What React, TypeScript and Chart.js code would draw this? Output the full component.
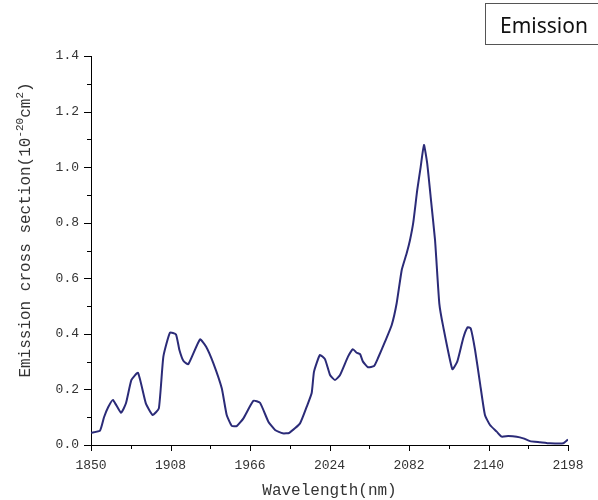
import React, { useEffect, useRef } from "react";
import { Chart, registerables } from "chart.js";
Chart.register(...registerables);

const seriesLabel = "Emission";
const xTitle = "Wavelength(nm)";
const yTitleParts = [
  { t: "Emission cross section(10", sup: false },
  { t: "-20", sup: true },
  { t: "cm", sup: false },
  { t: "2", sup: true },
  { t: ")", sup: false },
];

const xTickValues = [1850, 1908, 1966, 2024, 2082, 2140, 2198];
const yTickValues = [0, 0.2, 0.4, 0.6, 0.8, 1.0, 1.2, 1.4];

const wavelengths = [
  1850, 1856.6, 1859.5, 1862.5, 1866, 1871.9, 1875.5, 1879.5, 1884.3, 1890,
  1895, 1899.5, 1902.8, 1907.6, 1912, 1914.5, 1917.5, 1921, 1929.5, 1934,
  1939.3, 1945.4, 1949, 1952.7, 1956.3, 1961.2, 1968.5, 1973.3, 1979.4, 1984.3,
  1989.9, 1994.7, 2002.5, 2007.4, 2011, 2012.7, 2017, 2020.7, 2024.4, 2028,
  2031.7, 2037.5, 2041.1, 2043.8, 2046.3, 2048.4, 2052.1, 2056.5, 2059.4, 2064.5,
  2069.4, 2073, 2076.7, 2080.3, 2082.7, 2085.1, 2088, 2090.5, 2092.9, 2095.3,
  2097.8, 2101, 2104.1, 2107, 2113.6, 2117.2, 2121.6, 2124.8, 2127, 2130.2,
  2133.8, 2137.4, 2141.1, 2146, 2149.6, 2154.4, 2160.6, 2165.4, 2170.3, 2177.6,
  2184.9, 2194.6, 2198,
];
const emission = [
  0.044, 0.052, 0.1, 0.136, 0.162, 0.116, 0.15, 0.234, 0.26, 0.15,
  0.108, 0.132, 0.318, 0.404, 0.398, 0.342, 0.302, 0.291, 0.38, 0.354,
  0.294, 0.204, 0.108, 0.069, 0.068, 0.096, 0.159, 0.152, 0.084, 0.054,
  0.042, 0.044, 0.078, 0.138, 0.187, 0.264, 0.324, 0.309, 0.252, 0.234,
  0.252, 0.318, 0.345, 0.332, 0.327, 0.3, 0.28, 0.284, 0.313, 0.372,
  0.432, 0.51, 0.63, 0.69, 0.737, 0.8, 0.917, 1.0, 1.08, 1.013,
  0.893, 0.737, 0.51, 0.425, 0.273, 0.3, 0.385, 0.424, 0.42, 0.342,
  0.223, 0.108, 0.072, 0.048, 0.03, 0.032, 0.03, 0.024, 0.014, 0.01,
  0.006, 0.006, 0.02,
];

const MONO = "'Liberation Mono', 'DejaVu Sans Mono', monospace";

const axisDecor = {
  id: "axisDecor",
  afterDraw(chart: any) {
    const ctx = chart.ctx;
    const xs = chart.scales.x;
    const ys = chart.scales.y;
    const area = chart.chartArea;
    ctx.save();
    ctx.strokeStyle = "#000";
    ctx.lineWidth = 1;
    for (let i = 0; i < xTickValues.length; i++) {
      const px = Math.round(xs.getPixelForValue(xTickValues[i])) + 0.5;
      ctx.beginPath();
      ctx.moveTo(px, area.bottom);
      ctx.lineTo(px, area.bottom + 6);
      ctx.stroke();
      if (i < xTickValues.length - 1) {
        const mid = (xTickValues[i] + xTickValues[i + 1]) / 2;
        const mx = Math.round(xs.getPixelForValue(mid)) + 0.5;
        ctx.beginPath();
        ctx.moveTo(mx, area.bottom);
        ctx.lineTo(mx, area.bottom + 4);
        ctx.stroke();
      }
    }
    for (let i = 0; i < yTickValues.length; i++) {
      const py = Math.round(ys.getPixelForValue(yTickValues[i])) + 0.5;
      ctx.beginPath();
      ctx.moveTo(area.left, py);
      ctx.lineTo(area.left - 7, py);
      ctx.stroke();
      if (i < yTickValues.length - 1) {
        const mid = (yTickValues[i] + yTickValues[i + 1]) / 2;
        const my = Math.round(ys.getPixelForValue(mid)) + 0.5;
        ctx.beginPath();
        ctx.moveTo(area.left, my);
        ctx.lineTo(area.left - 4, my);
        ctx.stroke();
      }
    }
    const mainFont = `16px ${MONO}`;
    const supFont = `11px ${MONO}`;
    let total = 0;
    for (const p of yTitleParts) {
      ctx.font = p.sup ? supFont : mainFont;
      total += ctx.measureText(p.t).width;
    }
    ctx.translate(26, 230);
    ctx.rotate(-Math.PI / 2);
    ctx.fillStyle = "#333";
    ctx.textBaseline = "middle";
    ctx.textAlign = "left";
    let cx = -total / 2;
    for (const p of yTitleParts) {
      ctx.font = p.sup ? supFont : mainFont;
      ctx.fillText(p.t, cx, p.sup ? -6 : 0);
      cx += ctx.measureText(p.t).width;
    }
    ctx.restore();
  },
};

export default function App() {
  const ref = useRef<HTMLCanvasElement | null>(null);
  useEffect(() => {
    if (!ref.current) return;
    const chart = new Chart(ref.current, {
      type: "line",
      data: {
        datasets: [
          {
            label: seriesLabel,
            data: wavelengths.map((w, i) => ({ x: w, y: emission[i] })),
            borderColor: "#2b2b78",
            borderWidth: 2,
            pointRadius: 0,
            tension: 0.15,
            fill: false,
          },
        ],
      },
      options: {
        animation: false,
        responsive: false,
        devicePixelRatio: 1,
        layout: { padding: { top: 56, right: 30, left: 0, bottom: 0 } },
        plugins: {
          legend: { display: false },
          tooltip: { enabled: false },
        },
        scales: {
          x: {
            type: "linear",
            min: 1850,
            max: 2198,
            afterFit(scale: any) {
              scale.height = 55;
            },
            afterBuildTicks(scale: any) {
              scale.ticks = xTickValues.map((v) => ({ value: v }));
            },
            grid: { display: false, drawTicks: false },
            border: { display: true, color: "#000", width: 1 },
            ticks: {
              color: "#333",
              font: { family: MONO, size: 13 },
              padding: 13,
              maxRotation: 0,
              autoSkip: false,
              callback: (v: any) => String(v),
            },
            title: {
              display: true,
              text: xTitle,
              color: "#333",
              font: { family: MONO, size: 16 },
              padding: { top: 0, bottom: 0 },
            },
          },
          y: {
            type: "linear",
            min: 0,
            max: 1.4,
            afterFit(scale: any) {
              scale.width = 91;
            },
            afterBuildTicks(scale: any) {
              scale.ticks = yTickValues.map((v) => ({ value: v }));
            },
            grid: { display: false, drawTicks: false },
            border: { display: true, color: "#000", width: 1 },
            ticks: {
              color: "#333",
              font: { family: MONO, size: 13 },
              padding: 12,
              autoSkip: false,
              callback: (v: any) => Number(v).toFixed(1),
            },
            title: { display: false },
          },
        },
      },
      plugins: [axisDecor],
    } as any);
    return () => chart.destroy();
  }, []);

  return (
    <div style={{ position: "absolute", left: 0, top: 0, width: 598, height: 500, background: "#fff" }}>
      <canvas ref={ref} width={598} height={500} style={{ display: "block" }} />
      <div
        style={{
          position: "absolute",
          left: 485,
          top: 3,
          width: 118,
          height: 42,
          border: "1px solid #555",
          boxSizing: "border-box",
          fontFamily: "'Noto Sans', sans-serif",
          fontSize: 21,
          color: "#111",
          lineHeight: "42px",
          paddingLeft: 14,
          whiteSpace: "nowrap",
        }}
      >
        {seriesLabel}
      </div>
    </div>
  );
}
